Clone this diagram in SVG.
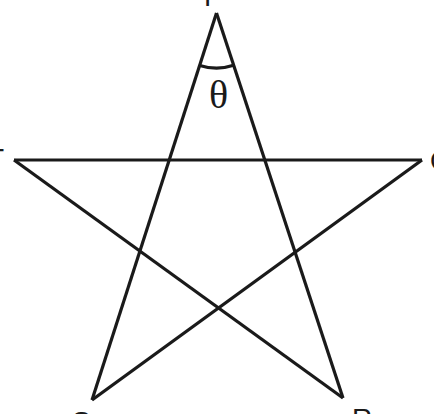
<svg xmlns="http://www.w3.org/2000/svg" width="434" height="414" viewBox="0 0 434 414">
<style>
.ln{stroke:#1a1a1a;stroke-width:3.2;fill:none;stroke-linejoin:miter;stroke-linecap:butt}
.lbl{font-family:"Liberation Sans",Arial,sans-serif;font-size:28px;fill:#1a1a1a}
.ang{font-family:"Liberation Serif","Times New Roman",serif;font-size:40px;fill:#1a1a1a}
</style>
<rect width="434" height="414" fill="#ffffff"/>
<g id="connectors">
<line class="ln" x1="216.5" y1="13" x2="92" y2="400"/>
<line class="ln" x1="216.5" y1="13" x2="343" y2="398"/>
<line class="ln" x1="14" y1="160" x2="422" y2="160"/>
<line class="ln" x1="14" y1="160" x2="343" y2="398"/>
<line class="ln" x1="422" y1="160" x2="92" y2="400"/>
<path class="ln" d="M199.7 65.4 A55 55 0 0 0 233.7 65.3" stroke-width="1.8"/>
</g>
<g id="P"><text class="lbl" x="204" y="6">P</text></g>
<g id="T"><text class="lbl" x="-13" y="168">T</text></g>
<g id="Q"><text class="lbl" x="430" y="170">Q</text></g>
<g id="S"><text class="lbl" x="72" y="431">S</text></g>
<g id="R"><text class="lbl" x="352" y="428">R</text></g>
<g id="theta"><text class="ang" x="209" y="108">θ</text></g>
</svg>
